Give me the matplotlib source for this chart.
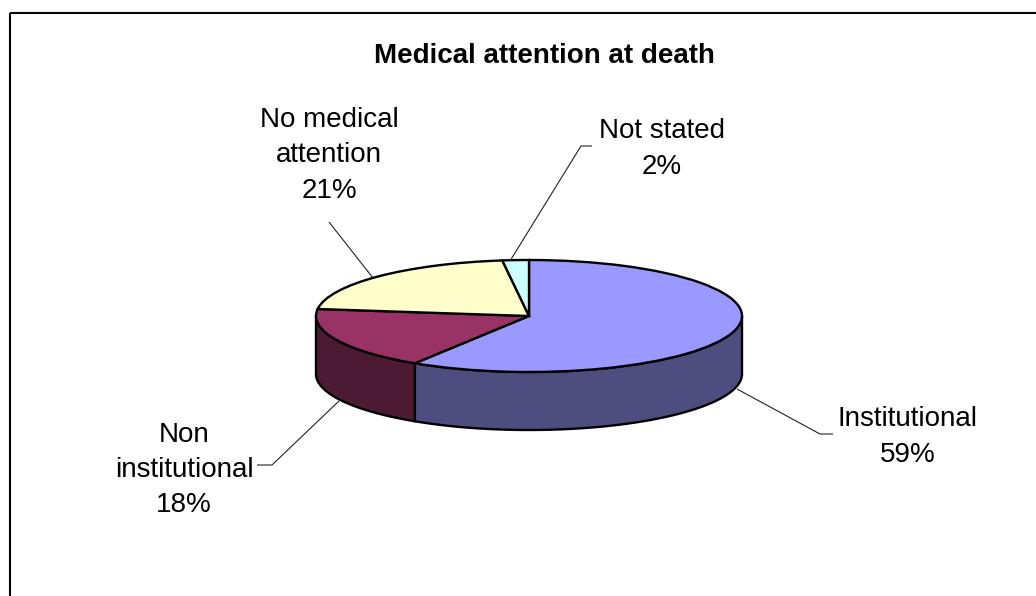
import numpy as np
import matplotlib
matplotlib.use("Agg")
import matplotlib.pyplot as plt
from matplotlib.patches import Polygon
from matplotlib.transforms import Affine2D

W, H = 1036, 596
title = "Medical attention at death"
categories = ["Institutional", "Non institutional", "No medical attention", "Not stated"]
values = [59, 18, 21, 2]
label_lines = ["Institutional\n59%", "Non\ninstitutional\n18%", "No medical\nattention\n21%", "Not stated\n2%"]
top_colors = ["#9999FF", "#993366", "#FFFFCC", "#CCFFFF"]
side_colors = ["#4D4D80", "#4D1A33", "#80805F", "#668080"]

plt.rcParams["font.family"] = ["Liberation Sans", "DejaVu Sans"]
fig = plt.figure(figsize=(W / 100, H / 100), dpi=100, facecolor="white")
ax = fig.add_axes([0, 0, 1, 1])

cx, cy = 529, 596 - 316
rx, ry, depth = 213, 56, 58
squash = Affine2D().scale(rx, ry).translate(cx, cy) + ax.transData
edge_lw = 1.7

wedges, _ = ax.pie(values, colors=top_colors, startangle=90, counterclock=False, radius=1,
                   normalize=True, wedgeprops=dict(edgecolor="black", linewidth=edge_lw, zorder=5))
for w in wedges:
    w.set_transform(squash)
ax.set_aspect("auto")
ax.set_xlim(0, W)
ax.set_ylim(0, H)
ax.axis("off")

# Side wall: visible part of the rim (front half of the ellipse)
edges = np.cumsum([0] + values) / sum(values) * 360
for i in range(len(values)):
    a0, a1 = edges[i], edges[i + 1]
    lo, hi = max(a0, 90), min(a1, 270)
    if hi <= lo:
        continue
    t = np.radians(np.linspace(lo, hi, 100))
    xs = cx + rx * np.sin(t)
    ys = cy + ry * np.cos(t)
    pts = np.r_[np.c_[xs, ys], np.c_[xs[::-1], ys[::-1] - depth]]
    ax.add_patch(Polygon(pts, closed=True, facecolor=side_colors[i], edgecolor="black",
                         linewidth=edge_lw, joinstyle="round", zorder=4))

fs = 20
ax.text(544.5, 596 - 56, title, ha="center", va="center", fontsize=fs, fontweight="bold", color="black")

label_pos = [(908, 596 - 437), (184, 596 - 470), (329, 596 - 155.5), (662, 596 - 149)]
for txt, (x, y) in zip(label_lines, label_pos):
    ax.text(x, y, txt, ha="center", va="center", fontsize=fs, linespacing=1.47, color="black")

leaders = [
    [(737, 389), (820, 434), (833, 434)],
    [(339, 401), (272, 465), (257, 465)],
    [(373, 278), (329, 222)],
    [(510, 261), (581, 146), (592, 146)],
]
for seg in leaders:
    ax.plot([p[0] for p in seg], [596 - p[1] for p in seg], color="#222222", lw=0.8, zorder=3,
            solid_capstyle="butt")

# Chart border: only top and left edges are inside the crop
ax.plot([9.5, W], [596 - 12.5, 596 - 12.5], color="black", lw=1.5, zorder=6, solid_capstyle="butt")
ax.plot([9.5, 9.5], [0, 596 - 12.5], color="black", lw=1.5, zorder=6, solid_capstyle="butt")

fig.savefig("out.png", dpi=100)
